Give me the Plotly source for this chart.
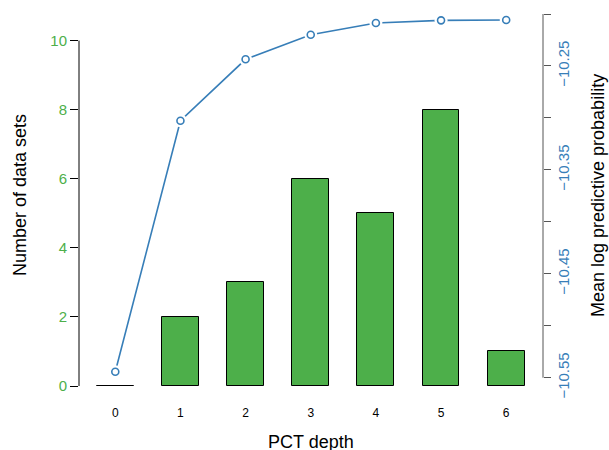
import plotly.graph_objects as go

# ---- data ----
depth = [0, 1, 2, 3, 4, 5, 6]
n_datasets = [0, 2, 3, 6, 5, 8, 1]
mean_log_pred = [-10.5443, -10.3027, -10.2436, -10.2199, -10.2087, -10.2061, -10.2058]
left_ticks = [0, 2, 4, 6, 8, 10]
right_tickvals = [-10.55, -10.50, -10.45, -10.40, -10.35, -10.30, -10.25, -10.20]
right_ticktext = ["\u221210.55", "", "\u221210.45", "", "\u221210.35", "", "\u221210.25", ""]

GREEN = "#4daf4a"
BLUE = "#377eb8"
FONT = "Liberation Sans, Arial, sans-serif"

W, H = 609, 450
L, R, T, B = 79, 543, 6, 386  # plot-area pixel edges
pw, ph = R - L, B - T

def px_x(x):
    return (x - L) / pw

def px_y(y):
    return (B - y) / ph

fig = go.Figure()

fig.add_trace(go.Bar(
    x=depth, y=n_datasets, width=0.565,
    marker=dict(color=GREEN, line=dict(color="black", width=1)),
    yaxis="y", showlegend=False, hoverinfo="skip",
))

fig.add_trace(go.Scatter(
    x=depth, y=mean_log_pred, mode="lines",
    line=dict(color=BLUE, width=1.6), yaxis="y2", showlegend=False,
))
fig.add_trace(go.Scatter(
    x=depth, y=mean_log_pred, mode="markers",
    marker=dict(color="white", size=13, line=dict(width=0)),
    yaxis="y2", showlegend=False,
))
fig.add_trace(go.Scatter(
    x=depth, y=mean_log_pred, mode="markers",
    marker=dict(color="white", size=7, line=dict(color=BLUE, width=1.6)),
    yaxis="y2", showlegend=False,
))

fig.update_layout(
    width=W, height=H,
    margin=dict(l=L, r=W - R, t=T, b=H - B, pad=0),
    paper_bgcolor="white", plot_bgcolor="white",
    font=dict(family=FONT, color="black"),
    bargap=0,
    xaxis=dict(
        range=[-0.557, 6.565], tickvals=depth, ticktext=[str(d) for d in depth],
        showgrid=False, zeroline=False, showline=False,
        ticks="outside", ticklen=16, tickcolor="rgba(0,0,0,0)",
        tickfont=dict(size=12, color="black"),
    ),
    yaxis=dict(
        range=[0, 11], tickvals=left_ticks,
        showgrid=False, zeroline=False, showline=False,
        ticks="outside", ticklen=8, tickwidth=1, tickcolor="black",
        tickfont=dict(size=15, color=GREEN),
    ),
    yaxis2=dict(
        range=[-10.558, -10.1923], overlaying="y", side="right",
        tickvals=right_tickvals, ticktext=right_ticktext, tickangle=-90,
        showgrid=False, zeroline=False, showline=False,
        ticks="outside", ticklen=7, tickwidth=1, tickcolor="#555555",
        tickfont=dict(size=15, color=BLUE),
    ),
    shapes=[
        dict(type="line", xref="paper", yref="y", x0=0, x1=0,
             y0=left_ticks[0], y1=left_ticks[-1], line=dict(color="black", width=1)),
        dict(type="line", xref="paper", yref="y2", x0=1, x1=1,
             y0=right_tickvals[0], y1=right_tickvals[-1], line=dict(color="#555555", width=1)),
    ],
    annotations=[
        dict(text="Number of data sets", xref="paper", yref="paper",
             x=px_x(20), y=px_y(195), textangle=-90, showarrow=False,
             xanchor="center", yanchor="middle", font=dict(size=18, color="black")),
        dict(text="Mean log predictive probability", xref="paper", yref="paper",
             x=px_x(598), y=px_y(196), textangle=-90, showarrow=False,
             xanchor="center", yanchor="middle", font=dict(size=18, color="black")),
        dict(text="PCT depth", xref="paper", yref="paper",
             x=px_x(311), y=px_y(442), showarrow=False,
             xanchor="center", yanchor="middle", font=dict(size=18, color="black")),
    ],
)

fig.write_html(
    "out.html",
    config={"displayModeBar": False},
    post_script="document.body.style.margin='0';document.body.style.overflow='hidden';",
)
